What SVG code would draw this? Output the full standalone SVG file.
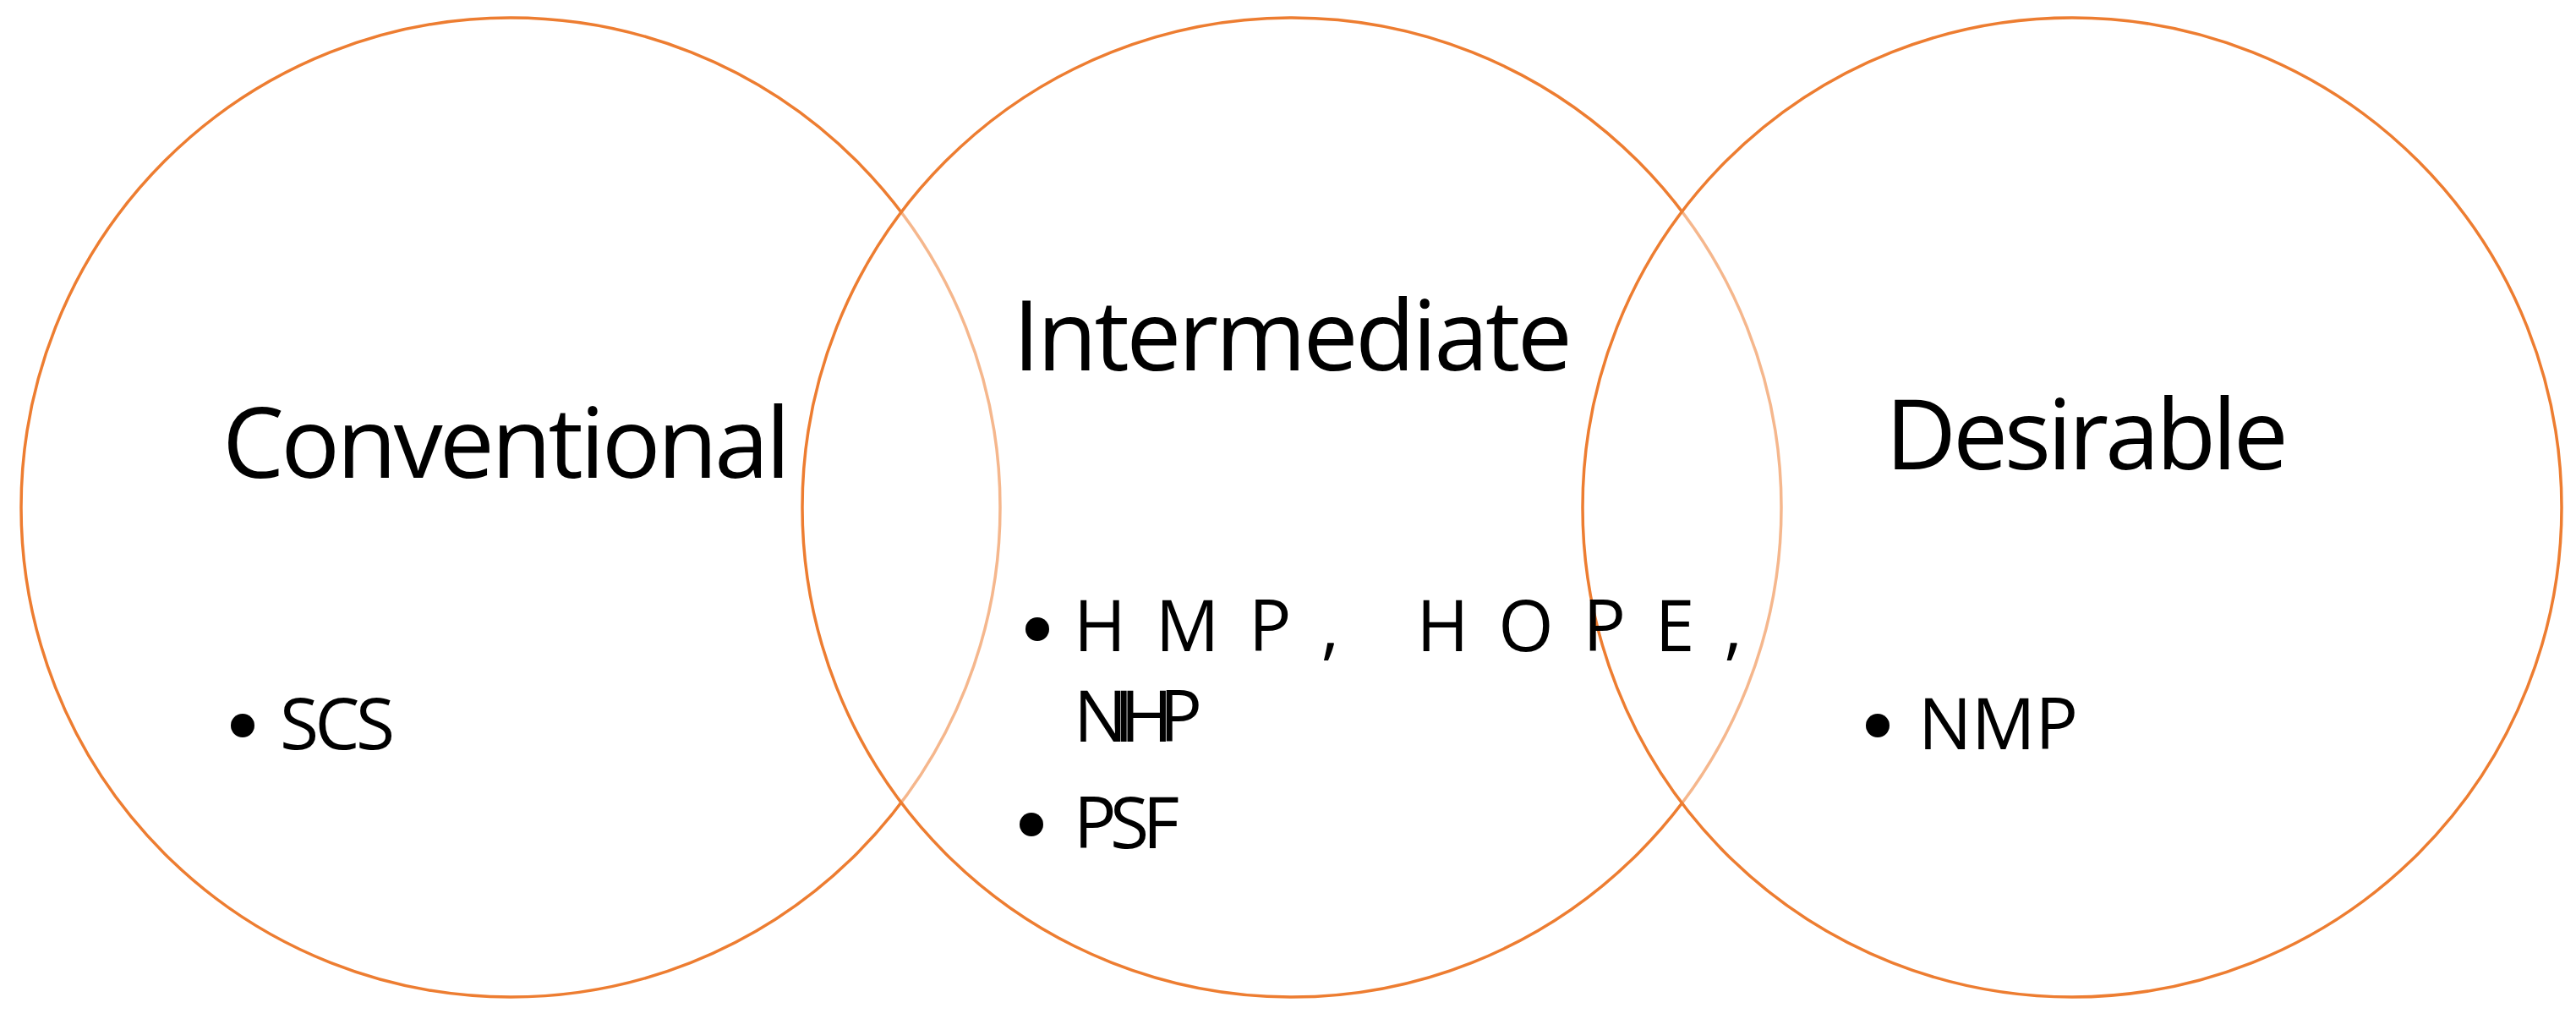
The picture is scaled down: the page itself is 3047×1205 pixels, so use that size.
<svg xmlns="http://www.w3.org/2000/svg" width="3047" height="1205" viewBox="0 0 3047 1205">
<style>
.c{fill:#fff;fill-opacity:0.45;stroke:#ED7D31;stroke-width:3.5}
.h{font-family:"Open Sans","Liberation Sans",sans-serif;font-size:116px;fill:#000}
.b{font-family:"Open Sans","Liberation Sans",sans-serif;font-size:84px;fill:#000}
.d{fill:#000}
</style>
<rect width="3047" height="1205" fill="#fff"/>
<g id="conventional">
<circle class="c" cx="604" cy="600" r="579"/>
</g>
<g id="intermediate">
<circle class="c" cx="1528" cy="600" r="579"/>
</g>
<g id="desirable">
<circle class="c" cx="2451" cy="600" r="579"/>
</g>
<g id="conventional-text">
<text class="h" x="263" y="565" textLength="672" lengthAdjust="spacing">Conventional</text>
<circle class="d" cx="287" cy="858" r="14"/>
<text class="b" x="331" y="886" textLength="136" lengthAdjust="spacing">SCS</text>
</g>
<g id="intermediate-text">
<text class="h" x="1198" y="438" textLength="662" lengthAdjust="spacing">Intermediate</text>
<circle class="d" cx="1227" cy="744" r="14"/>
<text class="b" x="1270" y="770" textLength="791" lengthAdjust="spacing">HMP, HOPE,</text>
<text class="b" x="1270" y="877" textLength="152" lengthAdjust="spacing">NIHP</text>
<circle class="d" cx="1220" cy="975" r="14"/>
<text class="b" x="1270" y="1003" textLength="125" lengthAdjust="spacing">PSF</text>
</g>
<g id="desirable-text">
<text class="h" x="2230" y="555" textLength="477" lengthAdjust="spacing">Desirable</text>
<circle class="d" cx="2221" cy="858" r="14"/>
<text class="b" x="2269" y="886" textLength="189" lengthAdjust="spacing">NMP</text>
</g>
<g id="connectors"/>
</svg>
